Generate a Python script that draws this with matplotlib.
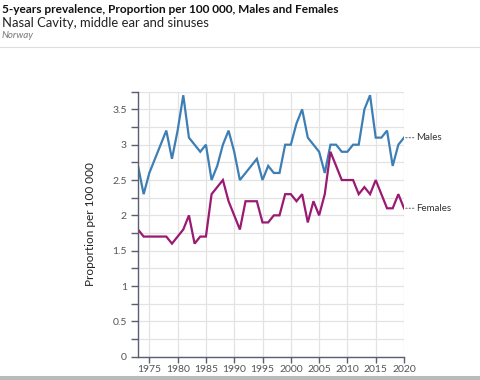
import numpy as np
import matplotlib
matplotlib.use("Agg")
import matplotlib.pyplot as plt
from matplotlib.ticker import MultipleLocator

# data
years = list(range(1973, 2021))
males = [2.7, 2.3, 2.6, 2.8, 3.0, 3.2, 2.8, 3.2, 3.7, 3.1,
         3.0, 2.9, 3.0, 2.5, 2.7, 3.0, 3.2, 2.9, 2.5, 2.6,
         2.7, 2.8, 2.5, 2.7, 2.6, 2.6, 3.0, 3.0, 3.3, 3.5,
         3.1, 3.0, 2.9, 2.6, 3.0, 3.0, 2.9, 2.9, 3.0, 3.0,
         3.5, 3.7, 3.1, 3.1, 3.2, 2.7, 3.0, 3.1]
females = [1.8, 1.7, 1.7, 1.7, 1.7, 1.7, 1.6, 1.7, 1.8, 2.0,
           1.6, 1.7, 1.7, 2.3, 2.4, 2.5, 2.2, 2.0, 1.8, 2.2,
           2.2, 2.2, 1.9, 1.9, 2.0, 2.0, 2.3, 2.3, 2.2, 2.3,
           1.9, 2.2, 2.0, 2.3, 2.9, 2.7, 2.5, 2.5, 2.5, 2.3,
           2.4, 2.3, 2.5, 2.3, 2.1, 2.1, 2.3, 2.1]
series_names = ["Males", "Females"]
colors = {"Males": "#3d7fb4", "Females": "#9a1a72"}
x_ticks = [1975, 1980, 1985, 1990, 1995, 2000, 2005, 2010, 2015, 2020]
y_ticks = [0, 0.5, 1, 1.5, 2, 2.5, 3, 3.5]

plt.rcParams['font.family'] = ['Lato', 'DejaVu Sans']

fig = plt.figure(figsize=(4.8, 3.8), dpi=100)
ax = fig.add_axes([0.2875, 0.0613, 0.5542, 0.6974])

ax.plot(years, males, color=colors["Males"], linewidth=1.6, solid_joinstyle='miter')
ax.plot(years, females, color=colors["Females"], linewidth=1.6, solid_joinstyle='miter')

ax.set_xlim(1973, 2020)
ax.set_ylim(0, 3.75)
ax.set_xticks(x_ticks)
ax.set_yticks(y_ticks)
ax.set_yticklabels([f"{v:g}" for v in y_ticks])
ax.yaxis.set_minor_locator(MultipleLocator(0.25))
ax.grid(True, which='both', axis='y', color='#e3e3e3', linewidth=0.9)
ax.grid(True, which='major', axis='x', color='#e3e3e3', linewidth=0.9)
ax.set_axisbelow(True)

for s in ['top', 'right']:
    ax.spines[s].set_visible(False)
for s in ['left', 'bottom']:
    ax.spines[s].set_color('#5a5f70')
    ax.spines[s].set_linewidth(1.0)
ax.tick_params(axis='both', which='both', color='#5a5f70', labelcolor='#555555',
               labelsize=7.5, width=1.0)
ax.tick_params(axis='y', which='both', length=5, pad=3)
ax.tick_params(axis='x', length=4, pad=2)
ax.set_ylabel("Proportion per 100 000", fontsize=8.5, color='#222222', labelpad=12)

# end labels with dotted leaders
for name, vals in [("Males", males), ("Females", females)]:
    ax.annotate(name, xy=(years[-1], vals[-1]), xytext=(9, 0),
                textcoords='offset points', fontsize=7, color='#333333',
                va='center', ha='left', annotation_clip=False,
                arrowprops=dict(arrowstyle='-', linestyle=':', color='#888888',
                                linewidth=0.9, shrinkA=0, shrinkB=0))

fig.text(0.004, 0.975, "5-years prevalence, Proportion per 100 000, Males and Females",
         fontsize=8.6, fontweight='bold', color='#111111', va='center')
fig.text(0.004, 0.94, "Nasal Cavity, middle ear and sinuses",
         fontsize=9.4, color='#222222', va='center')
fig.text(0.004, 0.907, "Norway", fontsize=7, style='italic', color='#777777', va='center')

fig.add_artist(plt.Line2D([0, 1], [0.877, 0.877], color='#dddddd', linewidth=0.8))
fig.add_artist(plt.Rectangle((0, 0), 1, 0.011, color='#bbbbbb', linewidth=0))

fig.savefig("out.png", dpi=100)
